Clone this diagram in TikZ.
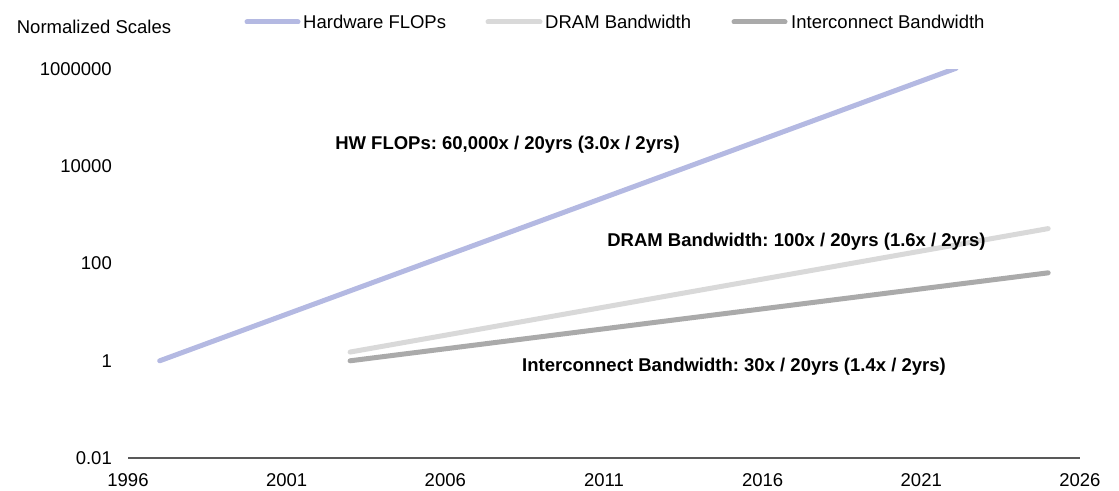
\documentclass[tikz,border=0pt]{standalone}
\usepackage{fontspec}
\setmainfont{Liberation Sans}
\usepackage{tikz}
\usetikzlibrary{positioning}
\definecolor{flopsblue}{HTML}{B4B9E2}
\definecolor{dramgray}{HTML}{D9D9D9}
\definecolor{icngray}{HTML}{AAAAAA}
\definecolor{axisgray}{HTML}{595959}
\frenchspacing

\begin{document}
\begin{tikzpicture}[x=1pt,y=1pt,
    every node/.style={font=\fontsize{18.5}{22}\selectfont, inner sep=0pt},
    trend/.style={line width=5pt, line cap=round},
    lbl/.style={font=\fontsize{18.5}{22}\selectfont\bfseries}]
    \useasboundingbox (0,0) rectangle (1119,490);
    % title and legend
    \node (ttl) at (94,463) {Normalized Scales};
    \node[anchor=west] (lgfl) at (303,468) {Hardware FLOPs};
    \node[anchor=west] (lgdr) at (545,468) {DRAM Bandwidth};
    \node[anchor=west] (lgic) at (791,468) {Interconnect Bandwidth};
    \draw[trend, flopsblue] ([xshift=-56pt]lgfl.west) -- ([xshift=-5pt]lgfl.west);
    \draw[trend, dramgray] ([xshift=-57pt]lgdr.west) -- ([xshift=-5pt]lgdr.west);
    \draw[trend, icngray] ([xshift=-57pt]lgic.west) -- ([xshift=-6pt]lgic.west);
    % plot area: x = years after 1996, y = log10(value)+2
    \begin{scope}[shift={(128,32)}, x=31.73pt, y=48.6pt]
        \draw[axisgray, line width=1.5pt] (0,0) coordinate (ax0) -- (30,0) coordinate (ax1);
        \foreach \yr [count=\i from 0] in {1996,2001,2006,2011,2016,2021,2026}
            \node[yshift=-22pt] (yr\i) at (5*\i,0) {\yr};
        \foreach \v [count=\i from 0] in {0.01,1,100,10000,1000000}
            \node[anchor=east, xshift=-16pt] (yl\i) at (0,2*\i) {\v};
        % data
        \coordinate (fl0) at (1,2);
        \coordinate (fl1) at (26.1,8.02);
        \coordinate (dr0) at (7,2.18);
        \coordinate (dr1) at (29,4.72);
        \coordinate (ic0) at (7,2);
        \coordinate (ic1) at (29,3.81);
        \draw[trend, dramgray] (dr0) -- (dr1);
        \draw[trend, icngray] (ic0) -- (ic1);
        \begin{scope}
            \clip (-1,0) rectangle (31,8);
            \draw[trend, flopsblue] (fl0) -- (fl1);
        \end{scope}
    \end{scope}
    % trend labels
    \node[lbl] (hwlbl) at (507.5,345) {HW FLOPs: 60,000x / 20yrs (3.0x / 2yrs)};
    \node[lbl] (drlbl) at (796.5,248) {DRAM Bandwidth: 100x / 20yrs (1.6x / 2yrs)};
    \node[lbl] (iclbl) at (734,123) {Interconnect Bandwidth: 30x / 20yrs (1.4x / 2yrs)};
\end{tikzpicture}
\end{document}
